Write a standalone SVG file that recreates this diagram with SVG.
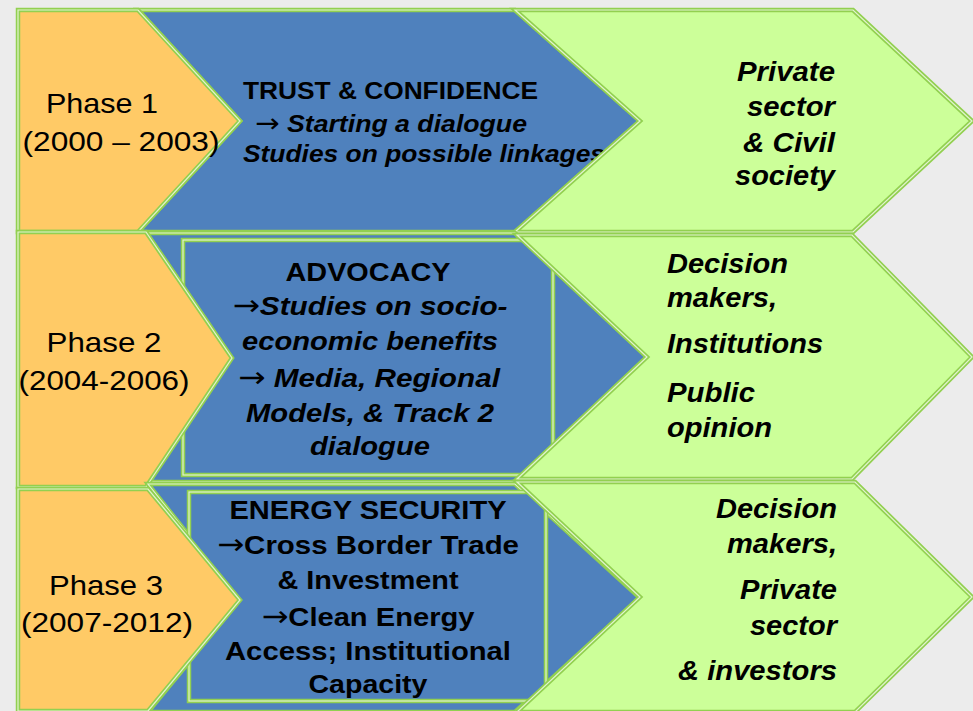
<svg xmlns="http://www.w3.org/2000/svg" xmlns:xlink="http://www.w3.org/1999/xlink" width="973" height="711" viewBox="0 0 973 711">
<style>
.bg{fill:#ECECEC}
.fo{fill:#FFCA66}
.fb{fill:#4F81BD}
.fg{fill:#CCFF99}
.fn{fill:none}
.s1{stroke:#92D050;stroke-width:4.5;stroke-linejoin:miter}
.s2{stroke:#E2F4CF;stroke-width:1.2;fill:none;stroke-linejoin:miter}
text{font-family:"Liberation Sans",Arial,Helvetica,sans-serif;fill:#000}
.ph{font-size:28px;text-anchor:middle}
.t24{font-size:24px;font-weight:bold}
.t26{font-size:26px;font-weight:bold;text-anchor:middle}
.tg{font-size:27px;font-weight:bold;font-style:italic}
.it{font-style:italic}
.ar{font-family:"DejaVu Sans",sans-serif;font-size:1.1em;font-weight:normal;font-style:normal}
.end{text-anchor:end}
</style>
<defs>
<polygon id="O1" points="18,10 138,10 240,121 138,232 18,232"/>
<polygon id="B1" points="138,10 515,10 640,121 515,232 138,232 240,121"/>
<polygon id="G1" points="515,10 853,10 972,121 853,232 515,232 640,121"/>
<polygon id="O2" points="18,232 146,232 232,358 146,487 18,487"/>
<polygon id="B2" points="146,233 515,233 647,357 515,482 146,482 232,358"/>
<rect id="R2" x="183" y="240" width="370" height="235"/>
<polygon id="G2" points="517,235 852,235 972,357 852,479 517,479 647,357"/>
<polygon id="O3" points="18,489 148,489 240,600 148,711 18,711"/>
<polygon id="B3" points="148,484 515,484 640,598 515,712 148,712 240,600"/>
<rect id="R3" x="189" y="492" width="357" height="209"/>
<polygon id="G3" points="517,482 855,482 972,597 855,712 517,712 640,597"/>
</defs>
<rect class="bg" x="0" y="0" width="973" height="711"/>
<g id="connectors"></g>

<g id="row1-blue">
<use xlink:href="#B1" class="fb s1"/><use xlink:href="#B1" class="s2"/>
<text class="t24" x="243" y="99" textLength="295" lengthAdjust="spacingAndGlyphs">TRUST &amp; CONFIDENCE</text>
<text class="t24 it" x="255" y="132" textLength="272" lengthAdjust="spacingAndGlyphs"><tspan class="ar">→</tspan> Starting a dialogue</text>
<text class="t24 it" x="243" y="162" textLength="362" lengthAdjust="spacingAndGlyphs">Studies on possible linkages</text>
</g>
<g id="row1-green">
<use xlink:href="#G1" class="fg s1"/><use xlink:href="#G1" class="s2"/>
<text class="tg end" x="835" y="81" textLength="98" lengthAdjust="spacingAndGlyphs">Private</text>
<text class="tg end" x="835" y="116" textLength="88" lengthAdjust="spacingAndGlyphs">sector</text>
<text class="tg end" x="835" y="152" textLength="92" lengthAdjust="spacingAndGlyphs">&amp; Civil</text>
<text class="tg end" x="835" y="185" textLength="100" lengthAdjust="spacingAndGlyphs">society</text>
</g>
<g id="row1-phase">
<use xlink:href="#O1" class="fo s1"/><use xlink:href="#O1" class="s2"/>
<text class="ph" x="102" y="113" textLength="112" lengthAdjust="spacingAndGlyphs">Phase 1</text>
<text class="ph" x="121" y="151" textLength="197" lengthAdjust="spacingAndGlyphs">(2000 – 2003)</text>
</g>

<g id="row2-blue">
<use xlink:href="#B2" class="fb s1"/><use xlink:href="#B2" class="s2"/>
<use xlink:href="#R2" class="fb s1"/><use xlink:href="#R2" class="s2"/>
<text class="t26" x="368" y="281" textLength="165" lengthAdjust="spacingAndGlyphs">ADVOCACY</text>
<text class="t26 it" x="370" y="315" textLength="275" lengthAdjust="spacingAndGlyphs"><tspan class="ar">→</tspan>Studies on socio-</text>
<text class="t26 it" x="370" y="350" textLength="256" lengthAdjust="spacingAndGlyphs">economic benefits</text>
<text class="t26 it" x="369" y="387" textLength="262" lengthAdjust="spacingAndGlyphs"><tspan class="ar">→</tspan> Media, Regional</text>
<text class="t26 it" x="370" y="422" textLength="248" lengthAdjust="spacingAndGlyphs">Models, &amp; Track 2</text>
<text class="t26 it" x="370" y="455" textLength="120" lengthAdjust="spacingAndGlyphs">dialogue</text>
</g>
<g id="row2-green">
<use xlink:href="#G2" class="fg s1"/><use xlink:href="#G2" class="s2"/>
<text class="tg" x="667" y="273" textLength="121" lengthAdjust="spacingAndGlyphs">Decision</text>
<text class="tg" x="667" y="307" textLength="110" lengthAdjust="spacingAndGlyphs">makers,</text>
<text class="tg" x="667" y="353" textLength="156" lengthAdjust="spacingAndGlyphs">Institutions</text>
<text class="tg" x="667" y="402" textLength="88" lengthAdjust="spacingAndGlyphs">Public</text>
<text class="tg" x="667" y="437" textLength="105" lengthAdjust="spacingAndGlyphs">opinion</text>
</g>
<g id="row2-phase">
<use xlink:href="#O2" class="fo s1"/><use xlink:href="#O2" class="s2"/>
<text class="ph" x="104" y="352" textLength="115" lengthAdjust="spacingAndGlyphs">Phase 2</text>
<text class="ph" x="104" y="390" textLength="171" lengthAdjust="spacingAndGlyphs">(2004-2006)</text>
</g>

<g id="row3-blue">
<use xlink:href="#B3" class="fb s1"/><use xlink:href="#B3" class="s2"/>
<use xlink:href="#R3" class="fb s1"/><use xlink:href="#R3" class="s2"/>
<text class="t26" x="368" y="519" textLength="277" lengthAdjust="spacingAndGlyphs">ENERGY SECURITY</text>
<text class="t26" x="368" y="554" textLength="302" lengthAdjust="spacingAndGlyphs"><tspan class="ar">→</tspan>Cross Border Trade</text>
<text class="t26" x="368" y="589" textLength="181" lengthAdjust="spacingAndGlyphs">&amp; Investment</text>
<text class="t26" x="368" y="626" textLength="213" lengthAdjust="spacingAndGlyphs"><tspan class="ar">→</tspan>Clean Energy</text>
<text class="t26" x="368" y="660" textLength="286" lengthAdjust="spacingAndGlyphs">Access; Institutional</text>
<text class="t26" x="368" y="693" textLength="119" lengthAdjust="spacingAndGlyphs">Capacity</text>
</g>
<g id="row3-green">
<use xlink:href="#G3" class="fg s1"/><use xlink:href="#G3" class="s2"/>
<text class="tg end" x="837" y="518" textLength="121" lengthAdjust="spacingAndGlyphs">Decision</text>
<text class="tg end" x="837" y="553" textLength="110" lengthAdjust="spacingAndGlyphs">makers,</text>
<text class="tg end" x="837" y="599" textLength="97" lengthAdjust="spacingAndGlyphs">Private</text>
<text class="tg end" x="837" y="635" textLength="87" lengthAdjust="spacingAndGlyphs">sector</text>
<text class="tg end" x="837" y="680" textLength="159" lengthAdjust="spacingAndGlyphs">&amp; investors</text>
</g>
<g id="row3-phase">
<use xlink:href="#O3" class="fo s1"/><use xlink:href="#O3" class="s2"/>
<text class="ph" x="106" y="595" textLength="114" lengthAdjust="spacingAndGlyphs">Phase 3</text>
<text class="ph" x="107" y="632" textLength="172" lengthAdjust="spacingAndGlyphs">(2007-2012)</text>
</g>
</svg>
